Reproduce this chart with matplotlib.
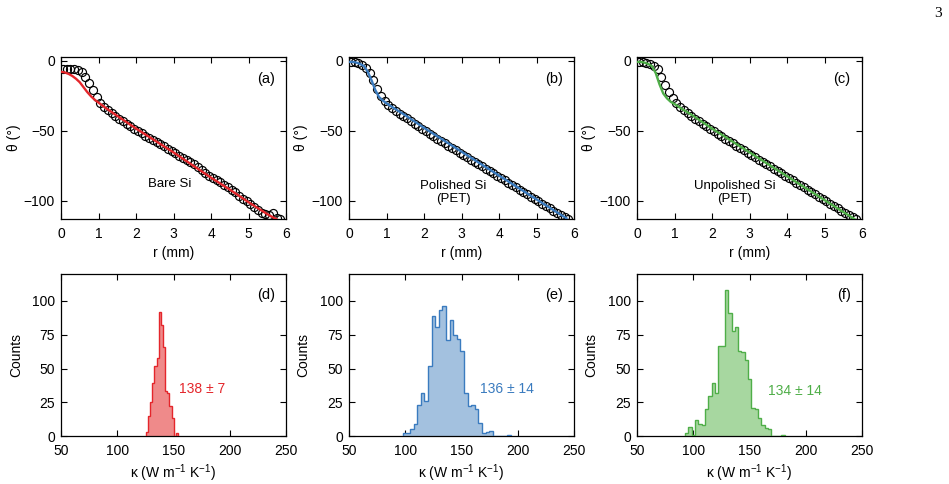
import matplotlib
matplotlib.use("Agg")
import matplotlib.pyplot as plt

plt.rcParams["font.family"] = ["Liberation Sans", "DejaVu Sans"]
plt.rcParams["mathtext.fontset"] = "custom"
plt.rcParams["mathtext.rm"] = "Liberation Sans"
plt.rcParams["mathtext.it"] = "Liberation Sans:italic"
plt.rcParams["font.size"] = 10

# ---- top row: phase profiles theta(r) ----
R_DATA = [0.05, 0.15, 0.25, 0.35, 0.45, 0.55, 0.65, 0.75, 0.85, 0.95,
          1.05, 1.15, 1.25, 1.35, 1.45, 1.55, 1.65, 1.75, 1.85, 1.95,
          2.05, 2.15, 2.25, 2.35, 2.45, 2.55, 2.65, 2.75, 2.85, 2.95,
          3.05, 3.15, 3.25, 3.35, 3.45, 3.55, 3.65, 3.75, 3.85, 3.95,
          4.05, 4.15, 4.25, 4.35, 4.45, 4.55, 4.65, 4.75, 4.85, 4.95,
          5.05, 5.15, 5.25, 5.35, 5.45, 5.55, 5.65, 5.75, 5.85]

THETA_A = [-6, -6, -6, -6, -6.5, -8, -11.5, -16, -21, -26,
           -30, -33, -35.5, -37.5, -39.5, -41.5, -43, -45, -47, -49,
           -50.5, -52, -53.5, -55, -56.5, -58, -59.5, -61, -63, -64.5,
           -66, -68, -69.5, -71, -72.5, -74, -76, -78, -80, -82,
           -84, -85, -86.5, -89, -90.5, -92, -94, -96.5, -98.5, -100.5,
           -102, -104.5, -106.5, -108.5, -109.5, -110, -109, -112, -113]

THETA_B = [-1, -1, -1.5, -3, -5, -9, -14, -20, -25.5, -29,
           -31.5, -34, -36, -38, -39.5, -41, -43, -45, -47, -49,
           -50.5, -52.5, -54, -56, -57.5, -59, -61, -62.5, -64, -66,
           -67.5, -69, -71, -72.5, -74, -75.5, -77.5, -79, -80.5, -82.5,
           -84, -85.5, -87.5, -89, -90.5, -92, -94, -95.5, -97, -99,
           -100.5, -102, -104, -105.5, -107, -108.5, -110, -111.5, -113]

THETA_C = [-1, -1, -1.5, -2.5, -4, -6, -12, -17.5, -22.5, -26.5,
           -30, -33, -35.5, -37.5, -39.5, -41.5, -43, -45, -47, -49,
           -50.5, -52.5, -54, -56, -57.5, -59, -61, -62.5, -64, -66,
           -67.5, -69, -71, -72.5, -74, -75.5, -77.5, -79, -80.5, -82.5,
           -84, -85.5, -87.5, -89, -90.5, -92, -94, -95.5, -97, -99,
           -100.5, -102, -104, -105.5, -107, -108.5, -110, -111.5, -113]

R_FIT = [0, 0.1, 0.2, 0.3, 0.4, 0.5, 0.6, 0.7, 0.8, 0.9, 1.0,
         1.2, 1.5, 2.0, 2.5, 3.0, 3.5, 4.0, 4.5, 5.0, 5.5, 5.8]
FIT_A = [-8, -8.5, -9.5, -11, -13, -15.5, -19, -22.5, -25.5, -28, -30,
         -34, -39.5, -48.5, -57, -65.5, -74.5, -83.5, -92, -101, -109.5, -114]
FIT_B = [-1, -1, -1.5, -2.5, -4, -8, -14, -21, -26, -28.5, -30.5,
         -34, -39, -48, -56.5, -65, -73.5, -82, -90.5, -99, -107.5, -112.5]
FIT_C = [-1, -1, -1.5, -2.5, -4, -9, -17, -23.5, -27, -29.5, -31,
         -34.5, -39.5, -48.5, -57, -65.5, -74, -82.5, -91, -99.5, -108, -113]

# ---- bottom row: histograms of kappa ----
EDGES_D_START, WIDTH_D = 125.5, 1.9
COUNTS_D = [3, 15, 25, 39, 52, 58, 92, 82, 66, 33, 32, 22, 13, 0, 2]

EDGES_E_START, WIDTH_E = 97.9, 3.2
COUNTS_E = [2, 2, 5, 9, 23, 32, 26, 52, 89, 81, 93, 96, 71, 86, 75,
            72, 63, 32, 22, 23, 20, 10, 2, 3, 4, 0, 0, 0, 0, 1]

EDGES_F_START, WIDTH_F = 92.7, 2.95
COUNTS_F = [2, 7, 1, 12, 9, 8, 20, 30, 39, 32, 67, 67, 108, 91, 78,
            81, 63, 62, 56, 42, 21, 20, 13, 8, 6, 5, 0, 0, 0, 1]

LABELS_TOP = ["Bare Si", "Polished Si\n(PET)", "Unpolished Si\n(PET)"]
LABEL_POS_TOP = [(2.9, -88), (2.78, -94), (2.6, -94)]
KAPPA_TEXT = ["138 ± 7", "136 ± 14", "134 ± 14"]
KAPPA_POS = [(155, 35), (166, 35), (166, 33)]

LINE_COLORS = ["#e4262b", "#3a7bbf", "#4fae48"]
FILL_COLORS = ["#ef8a8a", "#a3c1df", "#a7d7a0"]


def style_axes(ax):
    ax.tick_params(direction="in", top=True, right=True, length=4,
                   width=0.8, labelsize=10)
    ax.tick_params(axis="x", pad=6)
    ax.tick_params(axis="y", pad=4.5)
    for sp in ax.spines.values():
        sp.set_linewidth(0.9)


fig = plt.figure(figsize=(9.49, 4.84), dpi=100)

lefts = [61 / 949, 349 / 949, 637 / 949]
w = 225 / 949
h = 162 / 484

thetas = [THETA_A, THETA_B, THETA_C]
fits = [FIT_A, FIT_B, FIT_C]
for i in range(3):
    ax = fig.add_axes([lefts[i], 1 - 219 / 484, w, h])
    ax.plot(R_DATA, thetas[i], "o", mfc="none", mec="black", ms=5.8,
            mew=0.85, zorder=2)
    ax.plot(R_FIT, fits[i], "-", color=LINE_COLORS[i], lw=1.7, zorder=3)
    ax.set_xlim(0, 6)
    ax.set_ylim(-113, 2.5)
    ax.set_xticks([0, 1, 2, 3, 4, 5, 6])
    ax.set_yticks([0, -50, -100])
    ax.set_xlabel("r (mm)")
    ax.set_ylabel("θ (°)")
    ax.xaxis.set_label_coords(0.5, -0.165)
    ax.yaxis.set_label_coords(-0.18, 0.5)
    style_axes(ax)
    ax.text(0.95, 0.865, "(" + "abc"[i] + ")", transform=ax.transAxes,
            ha="right", va="center", fontsize=10.5)
    ax.text(LABEL_POS_TOP[i][0], LABEL_POS_TOP[i][1], LABELS_TOP[i],
            ha="center", va="center", fontsize=9.5, multialignment="center",
            linespacing=1.1)

hists = [(EDGES_D_START, WIDTH_D, COUNTS_D),
         (EDGES_E_START, WIDTH_E, COUNTS_E),
         (EDGES_F_START, WIDTH_F, COUNTS_F)]
for i in range(3):
    start, width, counts = hists[i]
    edges = [start + k * width for k in range(len(counts) + 1)]
    ax = fig.add_axes([lefts[i], 1 - 436 / 484, w, h])
    ax.stairs(counts, edges, fill=True, color=FILL_COLORS[i], zorder=2)
    ax.stairs(counts, edges, color=LINE_COLORS[i], lw=1.0, zorder=3)
    ax.set_xlim(50, 250)
    ax.set_ylim(0, 120)
    ax.set_xticks([50, 100, 150, 200, 250])
    ax.set_yticks([0, 25, 50, 75, 100])
    ax.set_xlabel("κ (W m$^{-1}$ K$^{-1}$)")
    ax.set_ylabel("Counts")
    ax.xaxis.set_label_coords(0.5, -0.16)
    ax.yaxis.set_label_coords(-0.17, 0.5)
    style_axes(ax)
    ax.text(0.95, 0.87, "(" + "def"[i] + ")", transform=ax.transAxes,
            ha="right", va="center", fontsize=10.5)
    ax.text(KAPPA_POS[i][0], KAPPA_POS[i][1], KAPPA_TEXT[i],
            color=LINE_COLORS[i], ha="left", va="center", fontsize=10)

fig.text(0.988, 0.973, "3", family="Liberation Serif", fontsize=11,
         ha="center", va="center")

fig.savefig("out.png", dpi=100)
